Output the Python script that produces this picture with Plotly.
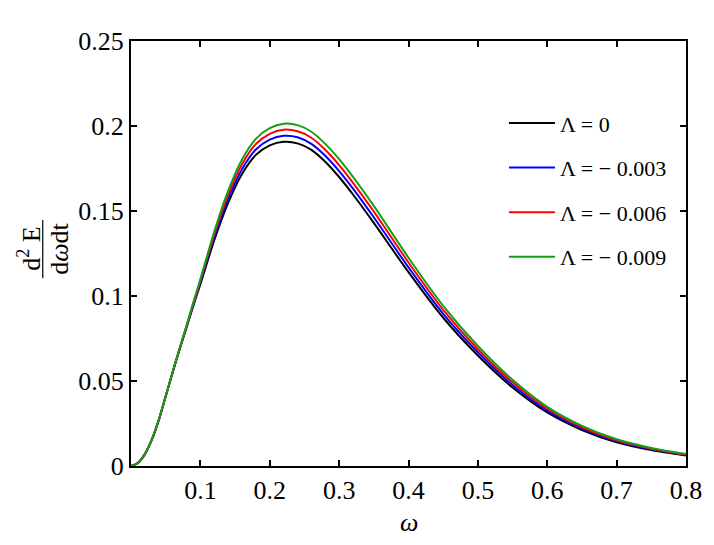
import plotly.graph_objects as go

# omega grid and the four spectra
omega = [0.0, 0.01, 0.02, 0.03, 0.04, 0.05, 0.06, 0.07, 0.08, 0.09, 0.10,
         0.12, 0.14, 0.16, 0.18, 0.20, 0.22, 0.24, 0.26, 0.28, 0.30, 0.32,
         0.35, 0.40, 0.45, 0.50, 0.55, 0.60, 0.65, 0.70, 0.75, 0.80]

lam_0 = [0.0, 0.0018, 0.0070, 0.0155, 0.0270, 0.0410, 0.0550, 0.0685, 0.0815, 0.0945, 0.1070,
         0.1328, 0.1548, 0.1718, 0.1830, 0.1886, 0.1907, 0.1898, 0.1860, 0.1790, 0.1700, 0.1597,
         0.1430, 0.1140, 0.0872, 0.0650, 0.0462, 0.0315, 0.0212, 0.0140, 0.0094, 0.0062]

lam_003 = [0.0, 0.0018, 0.0070, 0.0155, 0.0270, 0.0410, 0.0551, 0.0687, 0.0818, 0.0952, 0.1080,
           0.1345, 0.1571, 0.1746, 0.1862, 0.1920, 0.1942, 0.1934, 0.1895, 0.1825, 0.1735, 0.1632,
           0.1463, 0.1168, 0.0895, 0.0669, 0.0477, 0.0326, 0.0220, 0.0146, 0.0098, 0.0065]

lam_006 = [0.0, 0.0018, 0.0070, 0.0155, 0.0270, 0.0410, 0.0552, 0.0689, 0.0822, 0.0958, 0.1090,
           0.1361, 0.1595, 0.1775, 0.1894, 0.1954, 0.1978, 0.1969, 0.1931, 0.1860, 0.1770, 0.1666,
           0.1497, 0.1197, 0.0919, 0.0687, 0.0492, 0.0337, 0.0228, 0.0151, 0.0102, 0.0067]

lam_009 = [0.0, 0.0018, 0.0070, 0.0155, 0.0270, 0.0410, 0.0553, 0.0691, 0.0825, 0.0965, 0.1100,
           0.1378, 0.1618, 0.1803, 0.1924, 0.1987, 0.2013, 0.2005, 0.1966, 0.1895, 0.1805, 0.1701,
           0.1530, 0.1225, 0.0942, 0.0706, 0.0507, 0.0348, 0.0236, 0.0157, 0.0106, 0.0070]

series = [
    ("Λ = 0", lam_0, "black"),
    ("Λ = − 0.003", lam_003, "#0000ff"),
    ("Λ = − 0.006", lam_006, "#ff0000"),
    ("Λ = − 0.009", lam_009, "#14a014"),
]

x_ticks = [0.1, 0.2, 0.3, 0.4, 0.5, 0.6, 0.7, 0.8]
y_ticks = [0, 0.05, 0.1, 0.15, 0.2, 0.25]
y_tick_text = ["0", "0.05", "0.1", "0.15", "0.2", "0.25"]

FONT = "Liberation Serif"

fig = go.Figure()
for i, (name, ys, color) in enumerate(series):
    fig.add_trace(go.Scatter(
        x=omega, y=ys, mode="lines", name=name,
        legendgroup=f"g{i}",
        line=dict(color=color, width=2, shape="spline", smoothing=0.7),
    ))

axis_common = dict(
    showline=True, linecolor="black", linewidth=2, mirror="ticks",
    ticks="inside", ticklen=6, tickwidth=1.5, tickcolor="black",
    showgrid=False, zeroline=False, ticklabeloverflow="allow",
    tickfont=dict(family=FONT, size=26, color="black"),
)

fig.update_xaxes(range=[0, 0.8], tickvals=x_ticks,
                 ticktext=[str(v) for v in x_ticks], **axis_common)
fig.update_yaxes(range=[0, 0.25], tickvals=y_ticks, ticktext=y_tick_text,
                 **axis_common)

# x title (italic omega)
fig.add_annotation(text="<i>ω</i>", xref="paper", yref="paper",
                   x=0.5, y=-0.132, xanchor="center", yanchor="middle",
                   showarrow=False, font=dict(family=FONT, size=26, color="black"))

# y title as a rotated fraction
fig.add_annotation(text="d<sup>2</sup> E", xref="paper", yref="paper",
                   x=-0.182, y=0.511, xanchor="center", yanchor="middle",
                   textangle=-90, showarrow=False,
                   font=dict(family=FONT, size=26, color="black"))
fig.add_annotation(text="d<i>ω</i>dt", xref="paper", yref="paper",
                   x=-0.128, y=0.511, xanchor="center", yanchor="middle",
                   textangle=-90, showarrow=False,
                   font=dict(family=FONT, size=26, color="black"))
fig.add_shape(type="line", xref="paper", yref="paper",
              x0=-0.159, x1=-0.159, y0=0.442, y1=0.579,
              line=dict(color="black", width=1.2))

# page has an 8px body margin: figure fits the window, margins keep the plot box in place
fig.update_layout(
    width=706, height=529,
    margin=dict(l=123, r=14, t=33, b=71),
    plot_bgcolor="white", paper_bgcolor="white",
    font=dict(family=FONT, color="black"),
    showlegend=True,
    legend=dict(
        x=0.672, y=0.856, xanchor="left", yanchor="top",
        bgcolor="rgba(0,0,0,0)", borderwidth=0,
        font=dict(family=FONT, size=22, color="black"),
        tracegroupgap=13, itemwidth=46,
    ),
)

fig.write_html("out.html")
